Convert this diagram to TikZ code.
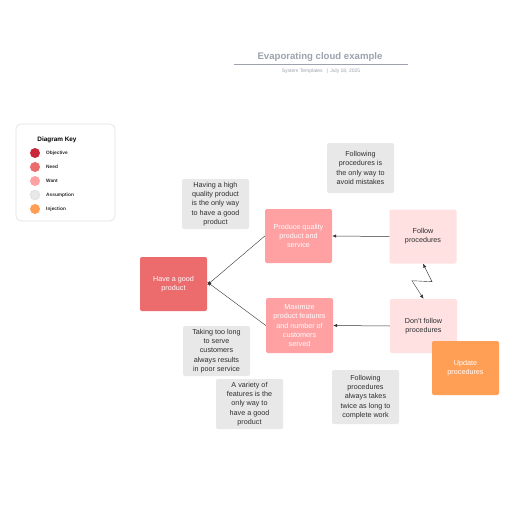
\documentclass[tikz,border=0pt]{standalone}
\usepackage{fontspec}
\setmainfont{Liberation Sans}
\usetikzlibrary{arrows.meta}
\definecolor{objcol}{HTML}{C8283A}
\definecolor{needcol}{HTML}{EC6B6D}
\definecolor{wantcol}{HTML}{FFA0A2}
\definecolor{asscol}{HTML}{E8E8E8}
\definecolor{injcol}{HTML}{FF9E55}
\definecolor{lightcol}{HTML}{FFE1E2}
\definecolor{titlecol}{HTML}{9DA2AE}
\definecolor{txtcol}{HTML}{2E2E2E}
\tikzset{
  box/.style={rounded corners=2pt, minimum width=67pt, minimum height=54pt,
    align=center, font=\fontsize{7.2}{9.2}\selectfont, inner sep=1pt},
  assume/.style={box, fill=asscol, text=txtcol, minimum height=50pt},
  keydot/.style={circle, minimum size=10pt, inner sep=0pt},
  keytext/.style={anchor=west, font=\fontsize{4.8}{5}\selectfont\bfseries, text=txtcol, inner sep=0pt},
  link/.style={-{Latex[length=4pt,width=3.4pt]}, line width=0.5pt, draw=black!80}
}
\begin{document}
\begin{tikzpicture}[x=1pt,y=-1pt]
    \useasboundingbox (0,0) rectangle (516,516);
    \fill[white] (0,0) rectangle (516,516);

    % Title
    \node[font=\fontsize{9.6}{11}\selectfont\bfseries, text=titlecol] (title) at (320,57) {Evaporating cloud example};
    \draw[titlecol, line width=0.7pt] (234,64.5) -- (408,64.5);
    \node[font=\fontsize{5}{6}\selectfont, text=titlecol] (subtitle) at (321,71.5) {System Templates \enspace|\enspace July 18, 2025};

    % Diagram key
    \draw[black!12, fill=white, rounded corners=5pt, line width=0.6pt] (16,124) rectangle (115,221);
    \node[font=\fontsize{6.4}{7}\selectfont\bfseries, text=black] (keytitle) at (57,140) {Diagram Key};
    \node[keydot, fill=objcol] (kobj) at (35,153) {};
    \node[keytext] at (46,153) {Objective};
    \node[keydot, fill=needcol] (kneed) at (35,167) {};
    \node[keytext] at (46,167) {Need};
    \node[keydot, fill=wantcol] (kwant) at (35,181) {};
    \node[keytext] at (46,181) {Want};
    \node[keydot, fill=asscol, draw=black!15, line width=0.4pt] (kass) at (35,195) {};
    \node[keytext] at (46,195) {Assumption};
    \node[keydot, fill=injcol] (kinj) at (35,209) {};
    \node[keytext] at (46,209) {Injection};

    % Objective
    \node[box, fill=needcol, text=white] (have) at (173.5,284) {Have a good\\product};

    % Needs
    \node[box, fill=wantcol, text=white] (produce) at (298.5,236) {Produce quality\\product and\\service};
    \node[box, fill=wantcol, text=white, minimum height=55pt] (maximize) at (299.5,325.5) {Maximize\\product features\\and number of\\customers\\served};

    % Wants
    \node[box, fill=lightcol, text=txtcol] (follow) at (423,236.5) {Follow\\procedures};
    \node[box, fill=lightcol, text=txtcol] (dontfollow) at (423.5,326) {Don't follow\\procedures};

    % Injection
    \node[box, fill=injcol, text=white] (update) at (465.5,368) {Update\\procedures};

    % Assumptions
    \node[assume] (ashigh) at (215.5,204) {Having a high\\quality product\\is the only way\\to have a good\\product};
    \node[assume] (aslong) at (216.5,351) {Taking too long\\to serve\\customers\\always results\\in poor service};
    \node[assume] (asvariety) at (249.5,404) {A variety of\\features is the\\only way to\\have a good\\product};
    \node[assume] (asmistakes) at (360.5,168) {Following\\procedures is\\the only way to\\avoid mistakes};
    \node[assume, minimum height=54pt] (astwice) at (365.5,397) {Following\\procedures\\always takes\\twice as long to\\complete work};

    % Arrows
    \draw[link] (follow.west) -- (produce.east);
    \draw[link] (dontfollow.west) -- (maximize.east);
    \draw[link, line width=0.4pt] (produce.west) -- ([yshift=-1pt]have.east);
    \draw[link, line width=0.4pt] (maximize.west) -- ([yshift=2pt]have.east);

    % Conflict
    \draw[{Latex[length=4pt,width=3.4pt]}-{Latex[length=4pt,width=3.4pt]}, line width=0.4pt, draw=black!80]
      (follow.south) -- ++(9,18) -- ++(-20,-1) -- (dontfollow.north);
\end{tikzpicture}
\end{document}
